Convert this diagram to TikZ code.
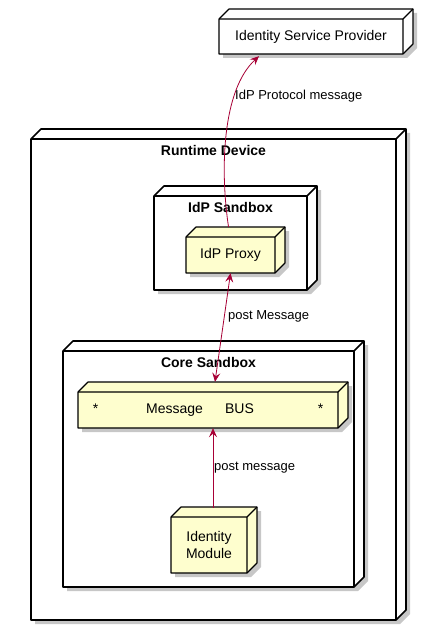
\documentclass[tikz,border=0pt]{standalone}
\usepackage{fontspec}
\setmainfont{Liberation Sans}
\usetikzlibrary{arrows.meta}
\definecolor{leaf}{HTML}{FEFECE}
\definecolor{conn}{HTML}{A80036}
\tikzset{
  container/.style={draw=black, fill=white, line width=1.6pt, line join=round},
  leafbox/.style={draw=black, fill=leaf, line width=1.1pt, line join=round},
  extbox/.style={draw=black, fill=white, line width=1.1pt, line join=round},
  nodetext/.style={font=\fontsize{14}{17}\selectfont, align=center},
  titletext/.style={font=\fontsize{14}{17}\selectfont\bfseries},
  lbl/.style={font=\fontsize{13}{15}\selectfont, anchor=west, inner sep=0},
  conline/.style={draw=conn, line width=0.8pt, >={Stealth[length=9pt,width=8pt,inset=3.5pt]}}
}
% #1 name, #2 x1, #3 y1, #4 x2, #5 y2, #6 style, #7 text
\newcommand\nbox[7]{%
  \fill[black,opacity=0.22] ({#2+4},{#5+4}) -- ({#2+4},{#3+4}) -- ({#2+14},{#3-6}) -- ({#4+14},{#3-6}) -- ({#4+14},{#5-6}) -- ({#4+4},{#5+4}) -- cycle;
  \filldraw[#6] (#2,#5) -- (#2,#3) -- ({#2+10},{#3-10}) -- ({#4+10},{#3-10}) -- ({#4+10},{#5-10}) -- (#4,#5) -- cycle;
  \draw[#6, fill=none] (#2,#3) -- (#4,#3) -- ({#4+10},{#3-10}) (#4,#3) -- (#4,#5);
  \node[nodetext, inner sep=0, minimum width={#4-#2}, minimum height={#5-#3}] (#1) at ({(#2+#4)/2},{(#3+#5)/2}) {#7};
}
\begin{document}
\begin{tikzpicture}[x=1pt,y=-1pt]
\useasboundingbox (0,0) rectangle (423,631);
\fill[white] (0,0) rectangle (423,631);

\nbox{rt}{31}{139}{396}{620}{container}{}
\node[titletext] (rtt) at ([yshift=-12pt]rt.north) {Runtime Device};

\nbox{idpsb}{154}{196}{307}{290}{container}{}
\node[titletext] (idpt) at ([yshift=-12pt]idpsb.north) {IdP Sandbox};

\nbox{proxy}{186}{237}{275}{273}{leafbox}{IdP Proxy}

\nbox{core}{63}{351}{354}{587}{container}{}
\node[titletext] (coret) at ([yshift=-12pt]core.north) {Core Sandbox};

\nbox{bus}{78}{392}{338}{428}{leafbox}{*\hspace{47.9pt}Message\hspace{22.2pt}BUS\hspace{63.9pt}*}

\nbox{module}{171}{517}{247}{573}{leafbox}{Identity\\Module}

\nbox{isp}{219}{19}{403}{54}{extbox}{Identity Service Provider}

% connectors
\draw[conline, ->] ([shift={(-2pt,10pt)}]proxy.north) .. controls (220,170) and (222,90) .. ([xshift=-52pt,yshift=-2pt]isp.south);
\node[lbl] (l1) at (235,96) {IdP Protocol message};

\draw[conline, <->] (proxy.south) -- ([shift={(7pt,10pt)}]bus.north);
\node[lbl] (l2) at (228,316) {post Message};

\draw[conline, ->] ([shift={(4pt,9pt)}]module.north) -- ([xshift=5pt]bus.south);
\node[lbl] (l3) at (214,468) {post message};
\end{tikzpicture}
\end{document}
